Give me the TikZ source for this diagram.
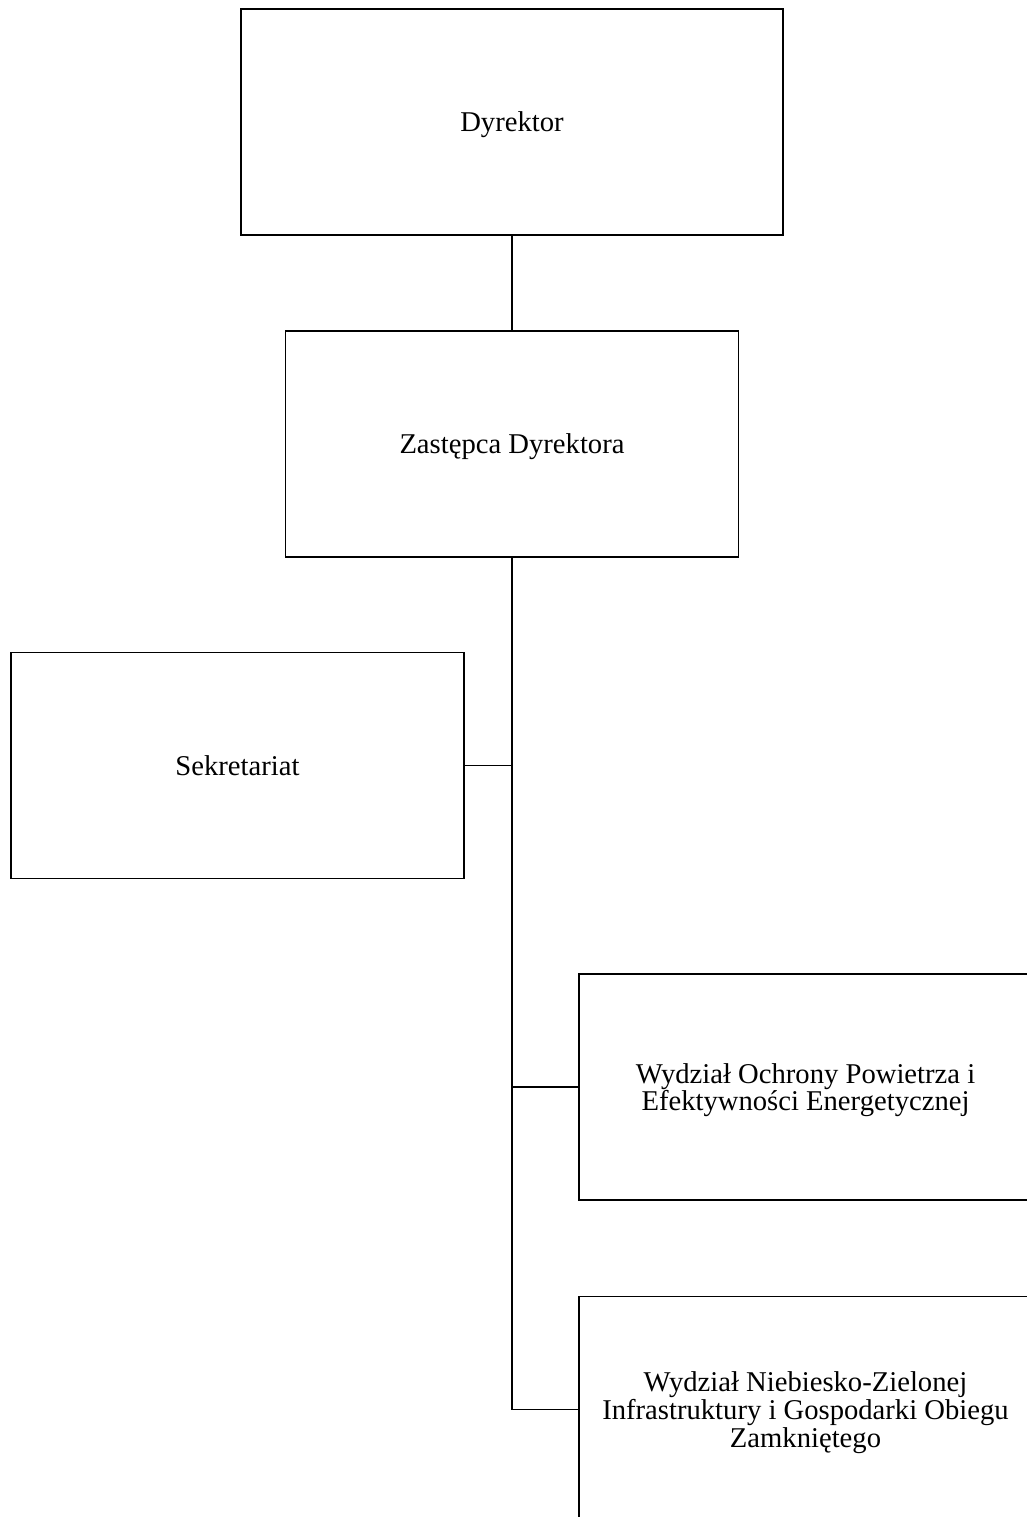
\documentclass[tikz,border=0pt]{standalone}
\usepackage{fontspec}
\setmainfont{Liberation Serif}
\usetikzlibrary{positioning, calc}

\begin{document}
\begin{tikzpicture}[x=0.02cm, y=-0.02cm,
        orgbox/.style={text centered, fill=white, draw, rectangle, line width=0.9pt, inner sep=0pt, text depth=0pt, align=center, minimum width=9.06cm, minimum height=4.52cm, font=\fontsize{16.3}{15.8}\selectfont},
        orgline/.style={line width=0.9pt}]
        		\useasboundingbox[fill=white] (0,0) rectangle (1027,1517);
        		\clip (0,0) rectangle (1027,1517);

        		\node (Dyrektor) at (512,122) [orgbox, minimum width=10.84cm]{Dyrektor};

        		\node (Zastepca) at ($(Dyrektor) + (0,322)$) [orgbox]{Zastępca Dyrektora};
        		\draw[orgline] (Dyrektor.south) -- (Zastepca.north);

        		\node (Sekretariat) at ($(Zastepca) + (-274.5,321.5)$) [orgbox]{Sekretariat};
        		\node (WydzialOchrony) at ($(Sekretariat) + (568,321.5)$) [orgbox]{Wydział Ochrony Powietrza i\\Efektywności Energetycznej};
        		\node (WydzialNiebiesko) at ($(WydzialOchrony) + (0,322.5)$) [orgbox]{Wydział Niebiesko-Zielonej\\Infrastruktury i Gospodarki Obiegu\\Zamkniętego};

        		\draw[orgline] (Zastepca.south) |- (WydzialNiebiesko.west);
        		\draw[orgline] (Sekretariat.east) -- (Sekretariat.east -| Zastepca.south);
        		\draw[orgline] (WydzialOchrony.west) -- (WydzialOchrony.west -| Zastepca.south);
		    \end{tikzpicture}
\end{document}
